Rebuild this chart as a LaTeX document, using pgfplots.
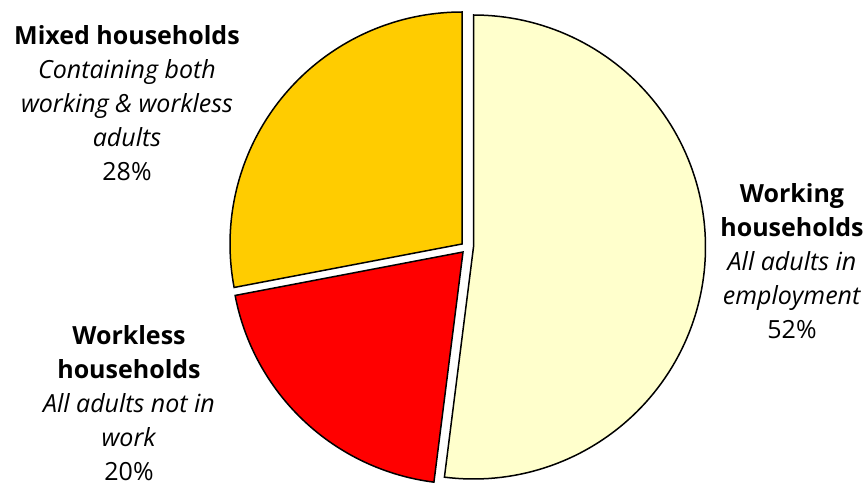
\documentclass[border=0pt]{standalone}
\usepackage{pgfplots}
\pgfplotsset{compat=1.18}
\usepackage{fontspec}
\setmainfont{Open Sans}
\definecolor{cWork}{HTML}{FFFFCC}
\definecolor{cLess}{HTML}{FF0000}
\definecolor{cMix}{HTML}{FFCC00}
\tikzset{lab/.style={font=\fontsize{25bp}{34bp}\selectfont, align=center, inner sep=0pt, anchor=north}}
\begin{document}
\begin{tikzpicture}
% shares in percent
\pgfmathsetmacro{\pWork}{52}
\pgfmathsetmacro{\pLess}{20}
\pgfmathsetmacro{\pMix}{28}
\pgfmathsetmacro{\aA}{90}
\pgfmathsetmacro{\aB}{90-3.6*\pWork}
\pgfmathsetmacro{\aC}{\aB-3.6*\pLess}
\pgfmathsetmacro{\aD}{\aC-3.6*\pMix}
\begin{axis}[
  width=867bp, height=485bp, scale only axis,
  xmin=0, xmax=867, ymin=0, ymax=485,
  hide axis, clip=false
]
\addplot[fill=cWork, draw=black, line width=1.5bp, domain=\aB:\aA, samples=120, variable=\t]
  ({473.5+232*cos(\t)}, {238+232*sin(\t)}) -- (axis cs:473.5,238) -- cycle;
\addplot[fill=cLess, draw=black, line width=1.5bp, domain=\aC:\aB, samples=60, variable=\t]
  ({463+232*cos(\t)}, {233+232*sin(\t)}) -- (axis cs:463,233) -- cycle;
\addplot[fill=cMix, draw=black, line width=1.5bp, domain=\aD:\aC, samples=80, variable=\t]
  ({462+232*cos(\t)}, {241+232*sin(\t)}) -- (axis cs:462,241) -- cycle;
\node[lab] at (axis cs:127,460) {\textbf{Mixed households}\\\textit{Containing both}\\\textit{working \& workless}\\\textit{adults}\\28\%};
\node[lab] at (axis cs:792,302) {\textbf{Working}\\\textbf{households}\\\textit{All adults in}\\\textit{employment}\\52\%};
\node[lab] at (axis cs:129,160) {\textbf{Workless}\\\textbf{households}\\\textit{All adults not in}\\\textit{work}\\20\%};
\end{axis}
\pgfresetboundingbox
\path (current axis.south west) rectangle (current axis.north east);
\end{tikzpicture}
\end{document}
